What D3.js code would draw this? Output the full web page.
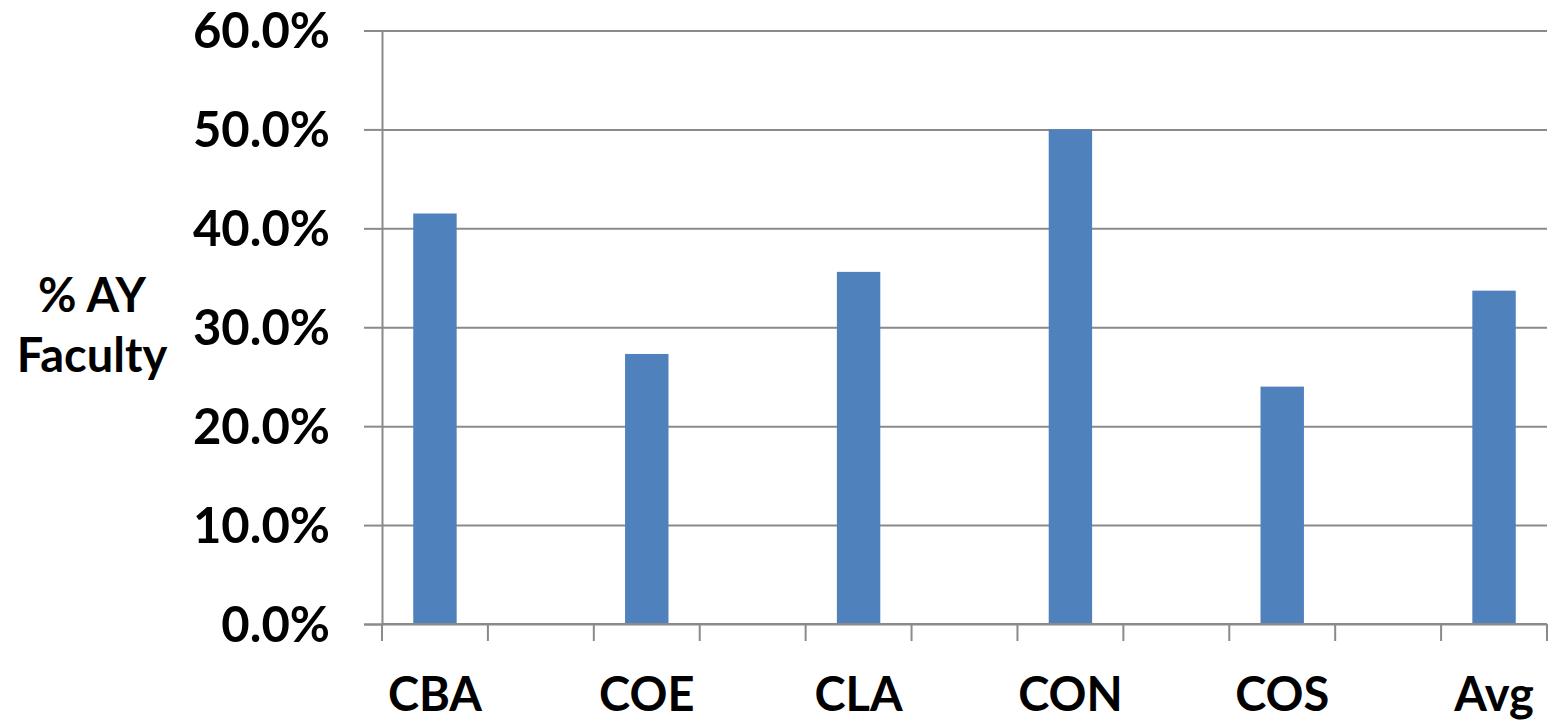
<!DOCTYPE html>
<html>
<head>
<meta charset="utf-8">
<script src="https://cdn.jsdelivr.net/npm/d3@7"></script>
<style>
  html, body { margin: 0; padding: 0; background: #fff; }
  svg text { font-family: Lato, "Open Sans", sans-serif; font-weight: 700; fill: #000; }
</style>
</head>
<body>
<div id="chart"></div>
<script>
// Daten
const categories = ["CBA", "COE", "CLA", "CON", "COS", "Avg"];
const values = [0.415, 0.273, 0.356, 0.500, 0.240, 0.337];
const yTicks = [0, 0.1, 0.2, 0.3, 0.4, 0.5, 0.6];
const yTitle = ["% AY", "Faculty"];

const W = 1551, H = 724;
const m = { top: 30.5, right: 4, bottom: 100, left: 382 };
const innerW = W - m.left - m.right;
const innerH = H - m.top - m.bottom;

const svg = d3.select("#chart").append("svg").attr("width", W).attr("height", H);
const g = svg.append("g").attr("transform", `translate(${m.left},${m.top})`);

// Jede Kategorie belegt jeden zweiten Slot (leere Slots dazwischen, wie im Original)
const slots = d3.range(categories.length * 2 - 1);
const x = d3.scaleBand().domain(slots).range([0, innerW]).paddingInner(0).paddingOuter(0);
const y = d3.scaleLinear().domain([0, 0.6]).range([innerH, 0]);

const gridColor = "#8a8a8a";

// Gitterlinien
g.append("g")
  .call(d3.axisLeft(y).tickValues(yTicks).tickSize(-innerW).tickFormat(""))
  .call(s => s.select(".domain").remove())
  .call(s => s.selectAll("line").attr("stroke", gridColor).attr("stroke-width", 2));

// Y-Achse mit Ticks nach außen
g.append("g")
  .call(d3.axisLeft(y).tickValues(yTicks).tickSize(18).tickPadding(34).tickFormat(d3.format(".1%")))
  .call(s => s.select(".domain").attr("stroke", gridColor).attr("stroke-width", 2))
  .call(s => s.selectAll("line").attr("stroke", gridColor).attr("stroke-width", 2))
  .call(s => s.selectAll("text").attr("font-size", 49).attr("dy", "0.35em")
    .style("font-family", "Lato, 'Open Sans', sans-serif").style("font-weight", 700).attr("fill", "#000"));

// Balken
const barW = x.bandwidth() * 0.41;
g.selectAll("rect.bar")
  .data(values)
  .join("rect")
  .attr("class", "bar")
  .attr("x", (d, i) => x(i * 2) + (x.bandwidth() - barW) / 2)
  .attr("y", d => y(d))
  .attr("width", barW)
  .attr("height", d => innerH - y(d))
  .attr("fill", "#4f81bd");

// X-Achse: Linie + Ticks an allen Slot-Grenzen
const bounds = slots.map(s => x(s)).concat([innerW]);
const xa = g.append("g").attr("transform", `translate(0,${innerH})`);
xa.append("line").attr("x1", 0).attr("x2", innerW).attr("stroke", gridColor).attr("stroke-width", 2);
xa.selectAll("line.tick")
  .data(bounds)
  .join("line")
  .attr("class", "tick")
  .attr("x1", d => d).attr("x2", d => d)
  .attr("y1", 0).attr("y2", 17)
  .attr("stroke", gridColor).attr("stroke-width", 2);

xa.selectAll("text.cat")
  .data(categories)
  .join("text")
  .attr("class", "cat")
  .attr("x", (d, i) => x(i * 2) + x.bandwidth() / 2)
  .attr("y", 87)
  .attr("text-anchor", "middle")
  .attr("font-size", 47)
  .text(d => d);

// Y-Titel (zweizeilig)
svg.append("text")
  .attr("x", 92)
  .attr("text-anchor", "middle")
  .attr("font-size", 47)
  .selectAll("tspan")
  .data(yTitle)
  .join("tspan")
  .attr("x", 92)
  .attr("y", (d, i) => 312 + i * 60)
  .text(d => d);
</script>
</body>
</html>
